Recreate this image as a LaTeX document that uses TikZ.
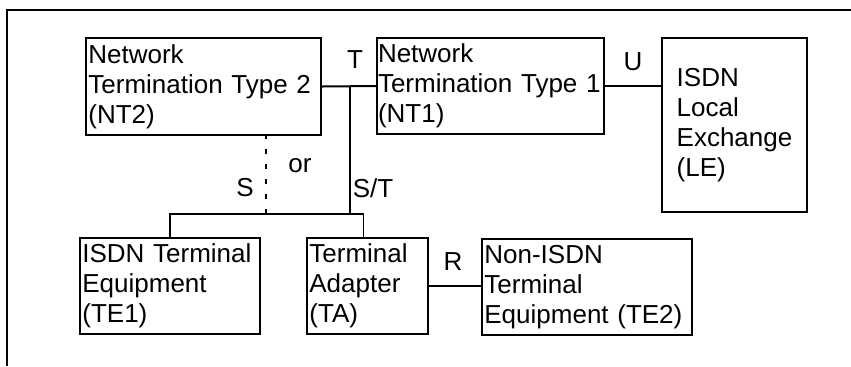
\documentclass[tikz,border=0pt]{standalone}
\usepackage{fontspec}
\setmainfont{Liberation Sans}
\usepackage{tikz}
\usetikzlibrary{calc}

\begin{document}
\begin{tikzpicture}[x=0.5pt, y=-0.5pt,
  box/.style={draw, line width=1pt, inner xsep=1.2pt, inner ysep=0pt, align=left, font=\fontsize{13}{15}\selectfont},
  lbl/.style={inner sep=0pt, font=\fontsize{13}{15}\selectfont}]
  \useasboundingbox (0,0) rectangle (851,366);
  \draw [line width=1.2pt] (851,10) -| (7,366);

  \node [box, text width=115.1pt, minimum height=48.5pt] (nt2) at (203.5,86.5) {Network\\Termination Type 2\\(NT2)};
  \node [box, inner xsep=0.5pt, text width=112.5pt, minimum height=48pt] (nt1) at (490.5,86) {Network\\Termination Type 1\\(NT1)};
  \node [box, inner xsep=0pt, minimum width=72.5pt, minimum height=87pt] (le) at (734.5,125) {ISDN\\Local\\Exchange\\(LE)};
  \node [box, text width=87.6pt, minimum height=48pt] (te1) at (170,286) {ISDN Terminal\\Equipment\\(TE1)};
  \node [box, text width=58.1pt, minimum height=48pt] (ta) at (367.5,286) {Terminal\\Adapter\\(TA)};
  \node [box, text width=102.6pt, minimum height=48pt] (te2) at (587,287) {Non-ISDN\\Terminal\\Equipment (TE2)};

  \coordinate (tj) at (350,87);
  \coordinate (stj) at (350,214);
  \coordinate (sj) at (266,214);

  \draw [line width=1pt] (nt2.east) -- (nt1.west);
  \draw [line width=1pt] (nt1.east) -- (nt1.east -| le.west);
  \draw [line width=1pt] (tj) -- (stj);
  \draw [line width=1pt] (te1.north) |- ([xshift=-2pt]ta.north |- stj);
  \draw [line width=0.5pt] ([xshift=-2pt]ta.north |- stj) -- ([xshift=-2pt]ta.north);
  \draw [line width=1pt, dash pattern=on 2.5pt off 5pt] (sj) -- (sj |- nt2.south);
  \draw [line width=1pt] (ta.east) -- (ta.east -| te2.west);

  \node [lbl] (t) at (355,60) {T};
  \node [lbl] (u) at (633,62) {U};
  \node [lbl] (or) at (300,166) {or};
  \node [lbl] (s) at (245,188) {S};
  \node [lbl] (st) at (373,188) {S/T};
  \node [lbl] (r) at (453,262) {R};
\end{tikzpicture}
\end{document}
